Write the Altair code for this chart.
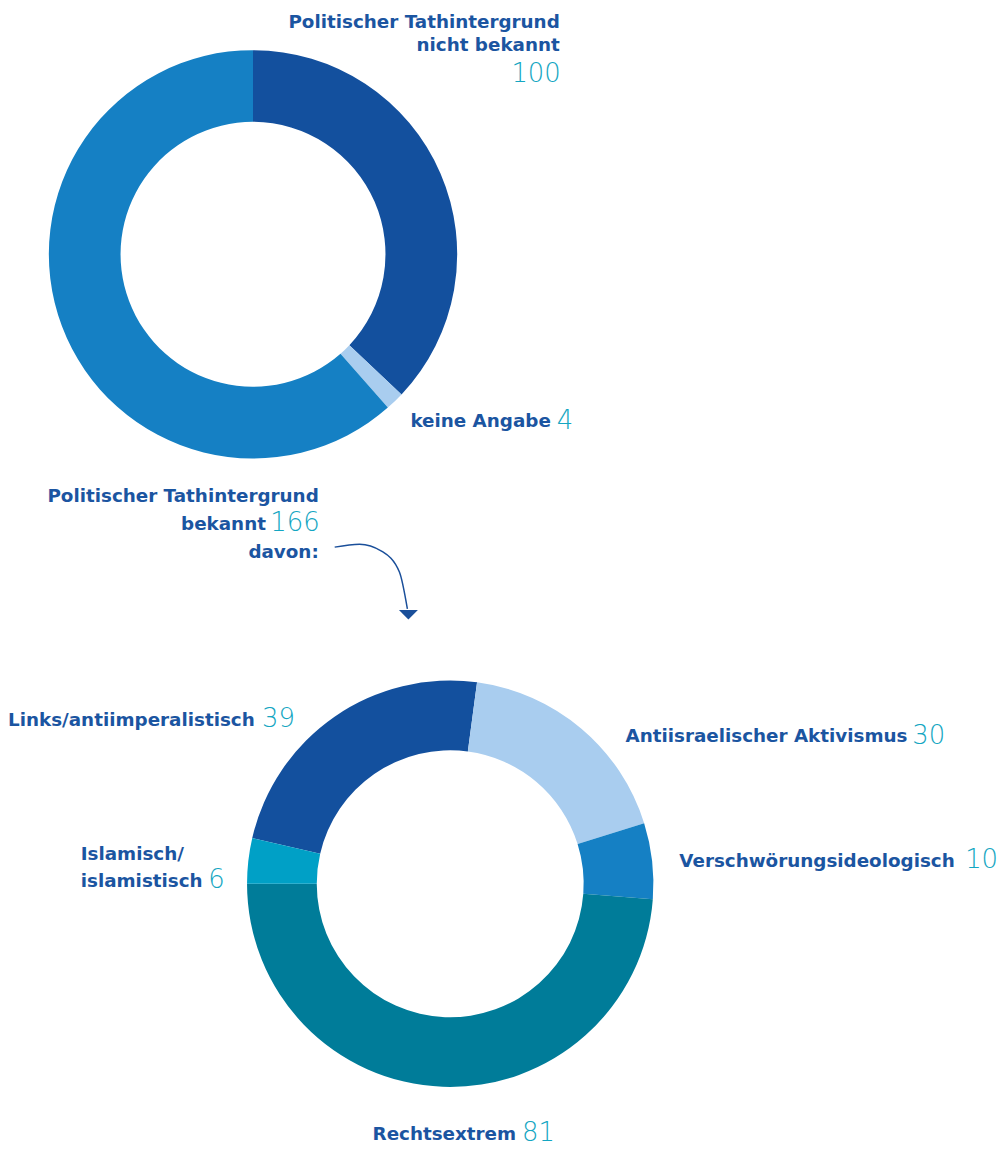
import math
import altair as alt
import pandas as pd

# ---- data ----
top_cats = ["Politischer Tathintergrund nicht bekannt", "keine Angabe",
            "Politischer Tathintergrund bekannt"]
top_vals = [100, 4, 166]
top_colors = ["#13509e", "#a9cdef", "#1580c4"]

bot_cats = ["Links/antiimperalistisch", "Antiisraelischer Aktivismus",
            "Verschwörungsideologisch", "Rechtsextrem", "Islamisch/islamistisch"]
bot_vals = [39, 30, 10, 81, 6]
bot_colors = ["#13509e", "#a9cdef", "#1580c4", "#007c99", "#00a0c6"]

LABEL = "#1b55a1"
NUM = "#14a6c2"
FONT = "DejaVu Sans"

top_df = pd.DataFrame({"cat": top_cats, "val": top_vals, "idx": range(len(top_cats))})
bot_df = pd.DataFrame({"cat": bot_cats, "val": bot_vals, "idx": range(len(bot_cats))})

# bottom donut: "Links" starts right after "Islamisch" which ends at 9 o'clock
bot_total = sum(bot_vals)
start = 1.5 * math.pi + 2 * math.pi * bot_vals[4] / bot_total

top_arc = alt.Chart(top_df).mark_arc(outerRadius=205, innerRadius=133, stroke=None).encode(
    theta=alt.Theta("val:Q", stack=True, scale=alt.Scale(range=[0, 2 * math.pi])),
    order=alt.Order("idx:Q"),
    color=alt.Color("cat:N", scale=alt.Scale(domain=top_cats, range=top_colors), legend=None),
    x=alt.value(245), y=alt.value(245),
)

bot_arc = alt.Chart(bot_df).mark_arc(outerRadius=204, innerRadius=134, stroke=None).encode(
    theta=alt.Theta("val:Q", stack=True, scale=alt.Scale(range=[start, start + 2 * math.pi])),
    order=alt.Order("idx:Q"),
    color=alt.Color("cat:N", scale=alt.Scale(domain=bot_cats, range=bot_colors), legend=None),
    x=alt.value(443), y=alt.value(877),
)

one = alt.Data(values=[{"a": 1}])


def lab(text, x, y, align="left"):
    return alt.Chart(one).mark_text(
        font=FONT, fontSize=18.4, fontWeight="bold", color=LABEL, align=align,
        baseline="alphabetic").encode(x=alt.value(x - 8), y=alt.value(y - 8), text=alt.value(text))


def num(text, x, y, align="left"):
    return alt.Chart(one).mark_text(
        font=FONT, fontSize=26, fontWeight=200, color=NUM, align=align,
        baseline="alphabetic").encode(x=alt.value(x - 8), y=alt.value(y - 8), text=alt.value(text))


texts = [
    lab("Politischer Tathintergrund", 561, 26, "right"),
    lab("nicht bekannt", 561, 49, "right"),
    num(str(top_vals[0]), 562, 80, "right"),
    lab("keine Angabe", 411, 426),
    num(str(top_vals[1]), 558, 428),
    lab("Politischer Tathintergrund", 319, 502, "right"),
    lab("bekannt", 266, 530, "right"),
    num(str(top_vals[2]), 320, 531, "right"),
    lab("davon:", 319, 558, "right"),
    lab("Links/antiimperalistisch", 7, 727),
    num(str(bot_vals[0]), 262, 728),
    lab("Islamisch/", 80, 861),
    lab("islamistisch", 80, 888),
    num(str(bot_vals[4]), 208, 889),
    lab("Antiisraelischer Aktivismus", 627, 743),
    num(str(bot_vals[1]), 915, 745),
    lab("Verschwörungsideologisch", 681, 868),
    num(str(bot_vals[2]), 968, 869),
    lab("Rechtsextrem", 373, 1142),
    num(str(bot_vals[3]), 523, 1143),
]

# arrow (decorative)
arrow_pts = pd.DataFrame({
    "x": [335 - 8, 360 - 8, 382 - 8, 400 - 8, 408 - 8],
    "y": [547 - 8, 544 - 8, 551 - 8, 572 - 8, 609 - 8],
})
arrow_line = alt.Chart(arrow_pts).mark_line(color="#1a4f9a", strokeWidth=1.5, interpolate="monotone").encode(
    x=alt.X("x:Q", scale=None), y=alt.Y("y:Q", scale=None)
)
arrow_head = alt.Chart(one).mark_point(
    shape="M-1,-0.5L1,-0.5L0,0.5Z", size=361, filled=True, color="#1a4f9a", opacity=1
).encode(x=alt.value(409 - 8), y=alt.value(615 - 8))

chart = alt.layer(top_arc, bot_arc, arrow_line, arrow_head, *texts).resolve_scale(
    color="independent", theta="independent"
).properties(width=991, height=1135, padding=0).configure_view(stroke=None)

chart.save("out.html", embed_options={"renderer": "svg", "actions": False})
